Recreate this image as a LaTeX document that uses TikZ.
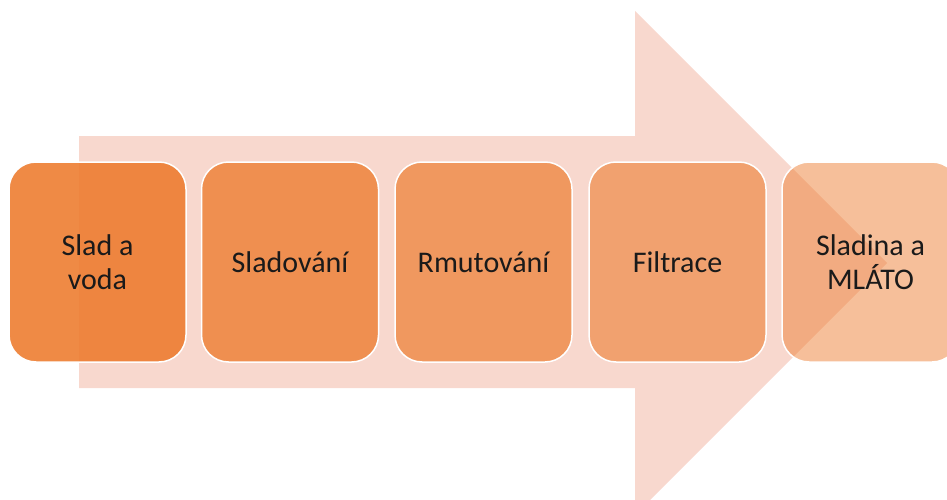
\documentclass[tikz,border=0pt]{standalone}
\usepackage{fontspec}
\setmainfont{Carlito}
\definecolor{accent}{HTML}{ED7D31}
\definecolor{arrowpink}{HTML}{F8D8CE}
\definecolor{txt}{HTML}{1A1A1A}
\tikzset{
  stagebox/.style={rectangle, rounded corners=27pt, minimum width=177pt, minimum height=200pt,
    inner sep=0pt, draw=white, line width=1.5pt, fill=accent, align=center, text=txt,
    text opacity=1, font=\fontsize{30}{34}\selectfont},
}
\begin{document}
\begin{tikzpicture}[x=1pt,y=-1pt]
\useasboundingbox (0,0) rectangle (947,500);
\clip (0,0) rectangle (947,500);
\fill[arrowpink] (79,136) -- (635,136) -- (635,11) -- (887,263) -- (635,515) -- (635,388) -- (79,388) -- cycle;
\node[stagebox, fill opacity=0.9] (b1) at (97.5,262) {Slad a\\voda};
\node[stagebox, fill opacity=0.8] (b2) at (290,262) {Sladování};
\node[stagebox, fill opacity=0.7] (b3) at (483.5,262) {Rmutování};
\node[stagebox, fill opacity=0.6] (b4) at (677.5,262) {Filtrace};
\node[stagebox, fill opacity=0.49] (b5) at (870.5,262) {Sladina a\\MLÁTO};
\end{tikzpicture}
\end{document}
